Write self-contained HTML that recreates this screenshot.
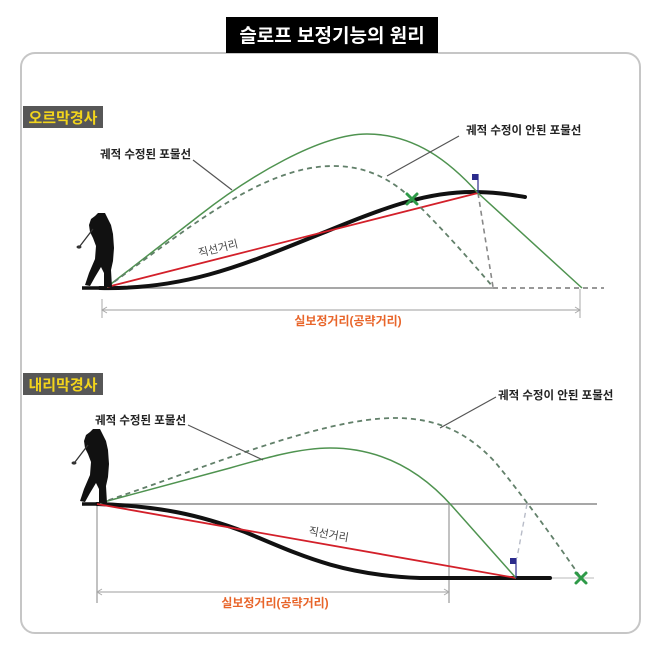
<!DOCTYPE html>
<html><head><meta charset="utf-8"><style>
html,body{margin:0;padding:0;background:#fff;}
svg{display:block;}
text{font-family:"Liberation Sans","Noto Sans CJK KR",sans-serif;}
</style></head><body>
<svg width="658" height="654" viewBox="0 0 658 654" xmlns="http://www.w3.org/2000/svg">
<rect x="0" y="0" width="658" height="654" fill="#fff"/>
<!-- frame -->
<rect x="21" y="53" width="619" height="580" rx="14" ry="14" fill="#fff" stroke="#c6c6c6" stroke-width="2"/>
<!-- title -->
<rect x="226" y="17" width="212" height="36" fill="#000"/>
<text x="332" y="42" fill="#fff" font-size="19" font-weight="bold" text-anchor="middle">슬로프 보정기능의 원리</text>

<!-- ===== UPPER PANEL ===== -->
<rect x="23" y="106" width="80" height="22" fill="#575757"/>
<text x="63" y="123" fill="#f2d41c" font-size="15" font-weight="bold" text-anchor="middle">오르막경사</text>

<!-- ground -->
<line x1="82" y1="288" x2="493" y2="288" stroke="#8a8a8a" stroke-width="1.6"/>
<line x1="493" y1="288" x2="604" y2="288" stroke="#777" stroke-width="1.6" stroke-dasharray="5,4"/>
<line x1="82" y1="288" x2="112" y2="288" stroke="#111" stroke-width="3.5"/>

<!-- dimension -->
<line x1="102" y1="299" x2="102" y2="318" stroke="#aaa" stroke-width="1"/>
<line x1="580" y1="289" x2="580" y2="318" stroke="#aaa" stroke-width="1"/>
<line x1="102" y1="310" x2="580" y2="310" stroke="#b0b0b0" stroke-width="1.2"/>
<polyline points="107,307 102,310 107,313" fill="none" stroke="#aaa" stroke-width="1"/>
<polyline points="575,307 580,310 575,313" fill="none" stroke="#aaa" stroke-width="1"/>
<text x="348" y="325" fill="#e8652a" font-size="12" font-weight="bold" text-anchor="middle">실보정거리(공략거리)</text>

<!-- dashed verticals from flag -->
<line x1="478" y1="193" x2="493" y2="287" stroke="#888" stroke-width="1.6" stroke-dasharray="5,4"/>

<!-- terrain black -->
<path d="M100,288 C 190,290 250,262 330,230 C 390,205 430,192 472,192 C 498,192 512,195 525,197" fill="none" stroke="#111" stroke-width="4" stroke-linecap="round"/>
<!-- red straight -->
<line x1="107" y1="287" x2="478" y2="193" stroke="#d3202a" stroke-width="1.8"/>

<!-- green solid -->
<path d="M107,287 L200,215 C 250,176 320,134 367,134 C 415,134 450,162 478,193 L582,288" fill="none" stroke="#4f9350" stroke-width="1.5"/>
<!-- green dashed -->
<path d="M107,287 C 180,235 260,166 333,166 C 365,166 390,178 412,199 C 440,226 470,260 493,287" fill="none" stroke="#62806a" stroke-width="1.8" stroke-dasharray="5,4"/>

<!-- X mark -->
<g stroke="#2e9a48" stroke-width="3" stroke-linecap="round">
<line x1="407" y1="194" x2="417" y2="204"/><line x1="417" y1="194" x2="407" y2="204"/>
</g>
<!-- flag -->
<line x1="478" y1="174" x2="478" y2="193" stroke="#2b2b8c" stroke-width="1.2"/>
<rect x="472" y="174" width="6" height="6" fill="#2b2b8c"/>

<!-- leaders -->
<line x1="193" y1="160" x2="232" y2="190" stroke="#555" stroke-width="1.2"/>
<line x1="387" y1="176" x2="459" y2="136" stroke="#555" stroke-width="1.2"/>
<text x="100" y="158" fill="#222" font-size="11.5" font-weight="600">궤적 수정된 포물선</text>
<text x="466" y="134" fill="#222" font-size="11.5" font-weight="600">궤적 수정이 안된 포물선</text>
<text x="0" y="0" fill="#444" font-size="11" text-anchor="middle" transform="translate(219,252) rotate(-14)">직선거리</text>

<!-- golfer upper -->
<g id="golfer">
<path fill="#111" d="M98,213 L105,213 L108,219 L111,225 L113,234 L114,248 L113,261 L111,270 L112,287 L104,287 L104,273 L101,267 L95,277 L90,286 L85,285 L89,273 L95,259 L96,246 L93,238 L90,232 L89,225 L91,219 L95,216 Z"/>
<line x1="93" y1="229" x2="80" y2="246" stroke="#333" stroke-width="1.3"/>
<ellipse cx="79" cy="247" rx="2.5" ry="1.6" fill="#333"/>
</g>

<!-- ===== LOWER PANEL ===== -->
<rect x="23" y="373" width="80" height="22" fill="#575757"/>
<text x="63" y="390" fill="#f2d41c" font-size="15" font-weight="bold" text-anchor="middle">내리막경사</text>

<!-- horizontal line -->
<line x1="82" y1="504" x2="597" y2="504" stroke="#8a8a8a" stroke-width="1.6"/>
<line x1="82" y1="504" x2="102" y2="504" stroke="#111" stroke-width="3.5"/>
<!-- verticals -->
<line x1="97" y1="504" x2="97" y2="603" stroke="#999" stroke-width="1.2"/>
<line x1="449" y1="504" x2="449" y2="603" stroke="#999" stroke-width="1.2"/>
<!-- dimension -->
<line x1="97" y1="592" x2="449" y2="592" stroke="#b0b0b0" stroke-width="1.2"/>
<polyline points="102,589 97,592 102,595" fill="none" stroke="#aaa" stroke-width="1"/>
<polyline points="444,589 449,592 444,595" fill="none" stroke="#aaa" stroke-width="1"/>
<text x="275" y="607" fill="#e8652a" font-size="12" font-weight="bold" text-anchor="middle">실보정거리(공략거리)</text>

<!-- light continuation -->
<line x1="550" y1="578" x2="594" y2="578" stroke="#c8c8c8" stroke-width="1.2"/>
<!-- light dashed vertical -->
<line x1="527" y1="504" x2="517" y2="558" stroke="#b8bcc8" stroke-width="1.4" stroke-dasharray="5,4"/>

<!-- black terrain -->
<path d="M97,504 C 160,506 200,515 245,532 C 300,555 340,575 420,578 L 550,578" fill="none" stroke="#111" stroke-width="4" stroke-linecap="round"/>
<!-- red -->
<line x1="97" y1="504" x2="516" y2="578" stroke="#d3202a" stroke-width="1.8"/>

<!-- green solid -->
<path d="M100,503 L230,468 C 265,458 300,448 330,448 C 380,448 420,470 452,506 L516,578" fill="none" stroke="#4f9350" stroke-width="1.5"/>
<!-- green dashed -->
<path d="M100,503 C 200,470 320,418 395,418 C 440,418 470,435 495,462 C 520,492 555,540 581,578" fill="none" stroke="#62806a" stroke-width="1.8" stroke-dasharray="5,4"/>

<!-- X -->
<g stroke="#2e9a48" stroke-width="3" stroke-linecap="round">
<line x1="576" y1="573" x2="586" y2="583"/><line x1="586" y1="573" x2="576" y2="583"/>
</g>
<!-- flag -->
<line x1="516" y1="558" x2="516" y2="578" stroke="#2b2b8c" stroke-width="1.2"/>
<rect x="510" y="558" width="6" height="6" fill="#2b2b8c"/>

<!-- leaders -->
<line x1="188" y1="425" x2="263" y2="460" stroke="#555" stroke-width="1.2"/>
<line x1="440" y1="428" x2="496" y2="397" stroke="#555" stroke-width="1.2"/>
<text x="95" y="424" fill="#222" font-size="11.5" font-weight="600">궤적 수정된 포물선</text>
<text x="498" y="399" fill="#222" font-size="11.5" font-weight="600">궤적 수정이 안된 포물선</text>
<text x="0" y="0" fill="#444" font-size="11" text-anchor="middle" transform="translate(328,538) rotate(10)">직선거리</text>

<!-- golfer lower -->
<g transform="translate(-5,216)">
<path fill="#111" d="M98,213 L105,213 L108,219 L111,225 L113,234 L114,248 L113,261 L111,270 L112,287 L104,287 L104,273 L101,267 L95,277 L90,286 L85,285 L89,273 L95,259 L96,246 L93,238 L90,232 L89,225 L91,219 L95,216 Z"/>
<line x1="93" y1="229" x2="80" y2="246" stroke="#333" stroke-width="1.3"/>
<ellipse cx="79" cy="247" rx="2.5" ry="1.6" fill="#333"/>
</g>
</svg>
</body></html>
